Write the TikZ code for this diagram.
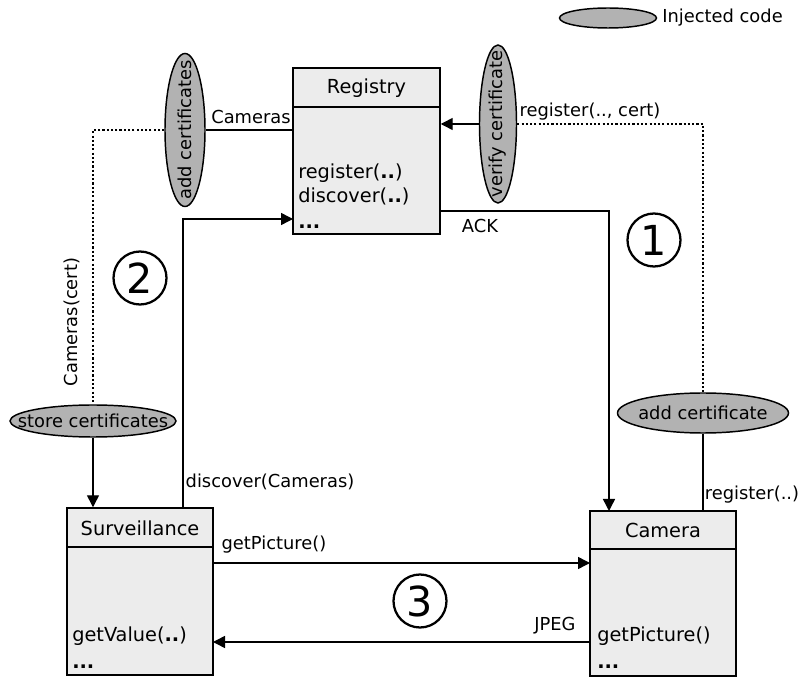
\documentclass[tikz,border=0pt]{standalone}
\usepackage{fontspec}
\setmainfont{DejaVu Sans}
\usepackage{xcolor}
\usetikzlibrary{arrows.meta, positioning, calc, shapes.geometric}
\newdimen\px \px=0.75pt
\definecolor{boxgray}{RGB}{236,236,236}
\definecolor{injgray}{RGB}{178,178,178}
\newcommand{\dd}{\textbf{..}}
\tikzset{
    classbox/.style={
        rectangle, draw=black, fill=boxgray, line width=1.1pt,
        minimum width=146\px, inner sep=0pt
    },
    title/.style={font=\fontsize{14.5}{17}\selectfont, inner sep=0pt},
    method/.style={font=\fontsize{14.5}{17}\selectfont, inner sep=0pt, anchor=base west},
    injected/.style={
        ellipse, draw=black, fill=injgray, line width=1.1pt, inner sep=0pt
    },
    injtext/.style={font=\fontsize{13.4}{15}\selectfont, inner sep=0pt},
    arrow/.style={-{Triangle[length=9pt, width=9pt]}, line width=1.1pt},
    line/.style={line width=1.1pt},
    dotline/.style={line width=1.1pt, dash pattern=on 1.6pt off 1.6pt},
    label/.style={font=\fontsize{13.4}{15}\selectfont, inner sep=0pt},
    stepnum/.style={circle, draw=black, line width=1.7pt, minimum size=53\px,
        inner sep=0pt, font=\fontsize{31}{31}\selectfont},
}

\begin{document}
\begin{tikzpicture}[x=0.75pt, y=-0.75pt]
    \useasboundingbox (0,0) rectangle (801,677);

    % classes
    \node[classbox, minimum width=147\px, minimum height=166\px] (registry) at (366.5,151) {};
    \node[classbox, minimum height=167\px] (surv) at (140,591.5) {};
    \node[classbox, minimum height=165\px] (camera) at (663,593.5) {};

    \draw[line] (293,107) -- (440,107);
    \draw[line] (67,547) -- (213,547);
    \draw[line] (590,549) -- (736,549);

    \node[title] (registrytitle) at (366.5,88) {Registry};
    \node[title] (survtitle) at (140,528) {Surveillance};
    \node[title] (cameratitle) at (663,530) {Camera};

    \node[method] (reg1) at (298,179) {register(\dd)};
    \node[method] (reg2) at (298,203) {discover(\dd)};
    \node[method] (reg3) at (298,229) {\textbf{...}};
    \node[method] (surv1) at (72,642) {getValue(\dd)};
    \node[method] (surv2) at (72,668) {\textbf{...}};
    \node[method] (cam1) at (597,642) {getPicture()};
    \node[method] (cam2) at (597,668) {\textbf{...}};

    % injected code
    \node[injected, minimum width=40\px, minimum height=153\px] (addcerts) at (185,130) {};
    \node[injected, minimum width=37\px, minimum height=158\px] (verifycert) at (498,124) {};
    \node[injected, minimum width=166\px, minimum height=32\px] (storecerts) at (93,421) {};
    \node[injected, minimum width=171\px, minimum height=40\px] (addcert) at (703,413) {};
    \node[injtext, rotate=90] (addcertstext) at (addcerts) {add certificates};
    \node[injtext, rotate=90] (verifycerttext) at (verifycert) {verify certificate};
    \node[injtext] (storecertstext) at (storecerts) {store certificates};
    \node[injtext] (addcerttext) at (addcert) {add certificate};

    \node[injected, minimum width=97\px, minimum height=20\px] (legend) at (608,18) {};
    \node[label, anchor=west] (legendtext) at (662,18) {Injected code};

    % step numbers
    \node[stepnum] (one) at (654,240) {1};
    \node[stepnum] (two) at (140,278) {2};
    \node[stepnum] (three) at (420,601) {3};

    % connectors
    \coordinate (ackstart) at (440,211);
    \coordinate (ackend) at (609,511);
    \coordinate (discstart) at (183,508);
    \coordinate (discend) at (293,219);
    \coordinate (picstart) at (213,563);
    \coordinate (picend) at (590,563);
    \coordinate (jpegstart) at (590,642);
    \coordinate (jpegend) at (213,642);

    \draw[line] (addcerts) -- (registry.west |- addcerts);
    \draw[dotline] (addcerts) -| (storecerts);
    \draw[arrow] (storecerts) -- (storecerts |- surv.north);
    \draw[arrow] (verifycert) -- (registry.east |- verifycert);
    \draw[dotline] (verifycert) -| (addcert);
    \draw[line] (addcert) -- (addcert |- camera.north);
    \draw[arrow] (ackstart) -| (ackend);
    \draw[arrow] (discstart) |- (discend);
    \draw[arrow] (picstart) -- (picend);
    \draw[arrow] (jpegstart) -- (jpegend);

    % labels
    \node[label] (lcameras) at (251,117) {Cameras};
    \node[label] (lregcert) at (590,112) {register(.., cert)};
    \node[label] (lack) at (480,226) {ACK};
    \node[label, rotate=90] (lcamcert) at (72,322) {Cameras(cert)};
    \node[label] (ldiscover) at (270,482) {discover(Cameras)};
    \node[label] (lregister) at (752,495) {register(..)};
    \node[label] (lgetpic) at (274,545) {getPicture()};
    \node[label] (ljpeg) at (555,626) {JPEG};
\end{tikzpicture}
\end{document}
